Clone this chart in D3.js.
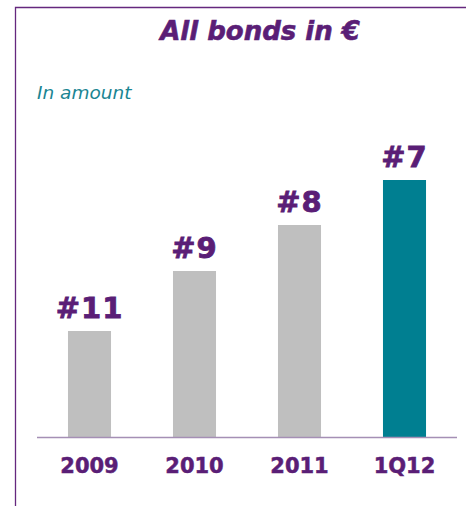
<!DOCTYPE html>
<html>
<head>
<meta charset="utf-8">
<script src="https://cdn.jsdelivr.net/npm/d3@7"></script>
<style>
  body { margin: 0; background: #fff; }
</style>
</head>
<body>
<div class="chart"></div>
<script>
var categories = ['2009', '2010', '2011', '1Q12'];
var values = [10.6, 16.6, 21.2, 25.7];
var ranks = ['#11', '#9', '#8', '#7'];

var width = 466, height = 506;
var baseY = 437;
var purple = '#5a1e76', teal = '#007f91', grey = '#bfbfbf';
var fontFamily = 'Verdana, "DejaVu Sans", sans-serif';

var svg = d3.select('.chart')
			.append('svg')
			.attr('width', width)
			.attr('height', height);

// frame (top + left)
svg.append('path')
	.attr('d', 'M15.5,' + height + 'V7.5H' + width)
	.attr('fill', 'none')
	.attr('stroke', '#65287e')
	.attr('stroke-width', 1.3);

svg.append('text')
	.attr('x', 260)
	.attr('y', 40)
	.attr('text-anchor', 'middle')
	.attr('font-family', fontFamily)
	.attr('font-size', 26)
	.attr('font-weight', 'bold')
	.attr('font-style', 'italic')
	.attr('fill', purple)
	.attr('stroke', purple)
	.attr('stroke-width', 0.6)
	.text('All bonds in €');

svg.append('text')
	.attr('x', 37)
	.attr('y', 99)
	.attr('font-family', fontFamily)
	.attr('font-size', 18.5)
	.attr('font-style', 'italic')
	.attr('fill', '#1a8592')
	.text('In amount');

var x = d3.scaleBand()
			.domain(categories)
			.range([37, 457])
			.paddingInner(0.59)
			.paddingOuter(0.295);

var y = d3.scaleLinear()
			.domain([0, 25.7])
			.range([baseY, 180]);

svg.selectAll('.bar')
	.data(values)
	.enter()
	.append('rect')
	.attr('class', 'bar')
	.attr('x', function(d, i){ return x(categories[i]); })
	.attr('y', function(d){ return y(d); })
	.attr('width', x.bandwidth())
	.attr('height', function(d){ return baseY - y(d); })
	.attr('fill', function(d, i){ return i == values.length - 1 ? teal : grey; });

svg.selectAll('.rank')
	.data(values)
	.enter()
	.append('text')
	.attr('class', 'rank')
	.attr('x', function(d, i){ return x(categories[i]) + x.bandwidth()/2; })
	.attr('y', function(d){ return y(d) - 13; })
	.attr('text-anchor', 'middle')
	.attr('font-family', fontFamily)
	.attr('font-size', 29)
	.attr('font-weight', 'bold')
	.attr('letter-spacing', 1)
	.attr('fill', purple)
	.attr('stroke', purple)
	.attr('stroke-width', 0.8)
	.text(function(d, i){ return ranks[i]; });

// baseline
svg.append('line')
	.attr('x1', 37)
	.attr('x2', 457)
	.attr('y1', baseY + 0.5)
	.attr('y2', baseY + 0.5)
	.attr('stroke', '#a58fb5')
	.attr('stroke-width', 1.5);

var xAxis = d3.axisBottom(x).tickSize(0).tickPadding(0);
var axisG = svg.append('g')
			.attr('transform', 'translate(0,' + baseY + ')')
			.call(xAxis);
axisG.select('.domain').remove();
axisG.selectAll('text')
	.attr('dy', null)
	.attr('y', 36)
	.attr('font-family', fontFamily)
	.attr('font-size', 21)
	.attr('font-weight', 'bold')
	.attr('fill', purple)
	.attr('stroke', purple)
	.attr('stroke-width', 0.5);
</script>
</body>
</html>
